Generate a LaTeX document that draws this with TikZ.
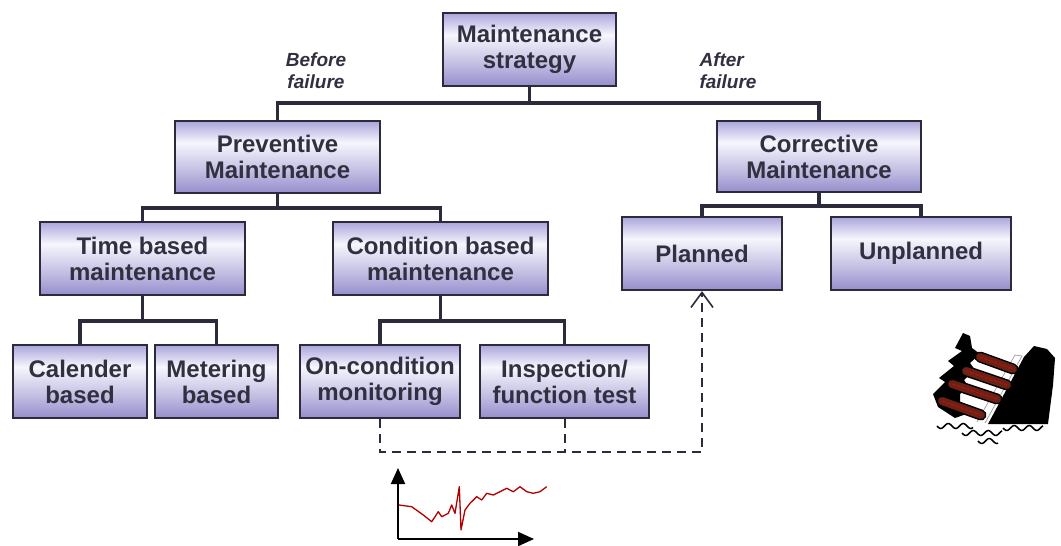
\documentclass[tikz,border=0pt]{standalone}
\usepackage{fontspec}
\setmainfont{Liberation Sans}
\usepackage{xcolor}
\usepackage{tikz}
\usetikzlibrary{positioning,arrows.meta}

\definecolor{boxtop}{HTML}{ABA5DC}
\definecolor{boxbot}{HTML}{958ECC}
\definecolor{boxmid}{HTML}{F6F6FC}
\definecolor{edge}{HTML}{2B2B3C}
\definecolor{ink}{HTML}{303040}
\definecolor{funnel}{HTML}{6A2216}
\pgfdeclareverticalshading{boxfill}{100bp}{color(0bp)=(boxbot); color(25bp)=(boxbot); color(40bp)=(boxbot!55!boxmid); color(60bp)=(boxmid); color(75bp)=(boxtop); color(100bp)=(boxtop)}

\tikzset{
  mbox/.style={draw=edge, line width=2.2pt, shading=boxfill, minimum height=73pt,
    inner sep=0pt, align=center, text=ink, font=\bfseries\fontsize{24}{26}\selectfont},
  link/.style={draw=edge, line width=3.4pt},
  feedback/.style={draw=edge, line width=2pt, dash pattern=on 9pt off 6pt},
  note/.style={text=ink, font=\bfseries\itshape\fontsize{19}{22}\selectfont}
}

\begin{document}
\begin{tikzpicture}[x=1pt,y=-1pt]
\useasboundingbox (0,0) rectangle (1061,546);

\node[mbox, minimum width=173pt] (strategy) at (529.5,49.5) {Maintenance\\strategy};
\node[mbox, minimum width=205pt, minimum height=72pt] (prev) at (277.5,157) {Preventive\\Maintenance};
\node[mbox, minimum width=204pt, minimum height=71pt] (corr) at (819,156.5) {Corrective\\Maintenance};
\node[mbox, minimum width=205pt] (time) at (142.5,258.5) {Time based\\maintenance};
\node[mbox, minimum width=215pt] (cond) at (440.5,258.5) {Condition based\\maintenance};
\node[mbox, minimum width=160pt] (plan) at (702,253.5) {Planned};
\node[mbox, minimum width=180pt] (unplan) at (921,253.5) {Unplanned};
\node[mbox, minimum width=134pt] (cal) at (80,381.5) {Calender\\based};
\node[mbox, minimum width=123pt] (meter) at (216.5,381.5) {Metering\\based};
\node[mbox, minimum width=160pt] (oncond) at (380,381.5) {On-condition\\monitoring};
\node[mbox, minimum width=169pt] (insp) at (564.5,381.5) {Inspection/\\function test};

\node[note, align=center] (before) at (316,71) {Before\\failure};
\node[note, align=left, anchor=west] (after) at (696,71) {After\\failure};

% tree branches
\draw[link] (strategy.south) -- ++(0,16) -| (prev.north);
\draw[link] (strategy.south) -- ++(0,16) -| (corr.north);
\draw[link] (prev.south) -- ++(0,14) -| (time.north);
\draw[link] (prev.south) -- ++(0,14) -| (cond.north);
\draw[link] (corr.south) -- ++(0,13) -| (plan.north);
\draw[link] (corr.south) -- ++(0,13) -| (unplan.north);
\draw[link] (time.south) -- ++(0,25) -| (cal.north);
\draw[link] (time.south) -- ++(0,25) -| (meter.north);
\draw[link] (cond.south) -- ++(0,25) -| (oncond.north);
\draw[link] (cond.south) -- ++(0,25) -| (insp.north);

% feedback into planned work
\coordinate (fb) at (0,452);
\draw[feedback, -{Straight Barb[length=15pt,width=22pt,line width=1.6pt]}]
  (oncond.south) -- (oncond.south |- fb) -| (plan.south);
\draw[feedback] (insp.south) -- (insp.south |- fb);

% condition trend
\coordinate (org) at (398,539);
\draw[line width=2pt, -{Triangle[length=16pt,width=14pt]}] (org) -- (398,468);
\draw[line width=2pt, -{Triangle[length=16pt,width=14pt]}] (org) -- (534,539);
\draw[red!70!black, line width=1.3pt, line join=round]
  (399,505) -- (411.7,506.7) -- (423.3,515) -- (431.7,521.7) -- (438.3,511.7) -- (441.7,516.7)
  -- (448.3,513.3) -- (451.7,505) -- (455,513.3) -- (459.3,486.7) -- (461,530) -- (465,510)
  -- (470,503.3) -- (476.7,496.7) -- (481.7,500) -- (486.7,493.3) -- (493.3,495) -- (500,491.7)
  -- (506.7,488.3) -- (513.3,491.7) -- (520,486.7) -- (526.7,491.7) -- (533.3,493.3)
  -- (540,491.7) -- (546.7,486.7);

% sinking ship
\fill[black] (963,333) -- (955,348) -- (962,351) -- (948,361) -- (954,366) -- (939,378)
  -- (945,382) -- (933,394) -- (938,407) -- (955,418) -- (972,412) -- (960,404) -- (960,394)
  -- (968,386) -- (964,380) -- (975,370) -- (970,363) -- (980,354) -- (972,348) -- (970,336) -- cycle;
\fill[black] (988,424) -- (1024,357) -- (1034,346) -- (1047,349) -- (1055,358) -- (1053,385)
  -- (1048,424) -- cycle;
\draw[gray!70, line width=0.8pt] (977,422) -- (1015,355) -- (1022,356) -- (985,423);
\foreach \a/\b in {{980,357}/{1013,369}, {966,371}/{1007,385}, {952,384}/{997,399}, {942,401}/{981,415}}{
  \draw[black, line width=11pt, line cap=round] (\a) -- (\b);
  \draw[funnel, line width=8pt, line cap=round] (\a) -- (\b);
  \draw[red!45!funnel, line width=1.5pt, line cap=round, dash pattern=on 3pt off 2pt] (\a) -- (\b);
}
\foreach \sx/\sy/\len in {937/426/36, 962/433/40, 1003/428/40, 978/441/20}{
  \draw[black, line width=1.5pt, domain=0:\len, samples=30, smooth]
    plot ({\sx+\x},{\sy+2.5*sin(\x*24)});
}
\end{tikzpicture}
\end{document}
